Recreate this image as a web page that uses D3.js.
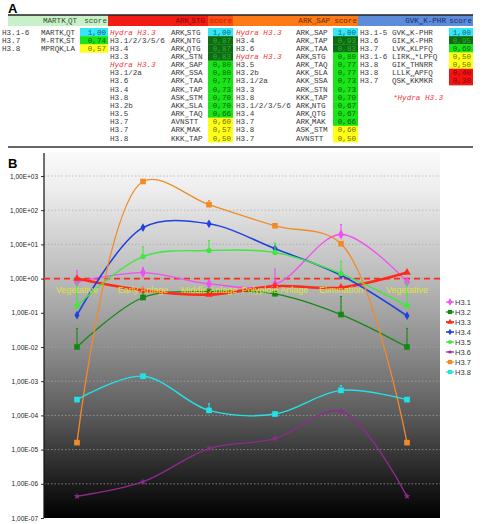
<!DOCTYPE html>
<html>
<head>
<meta charset="utf-8">
<script src="https://cdn.jsdelivr.net/npm/d3@7"></script>
<style>
  body { margin: 0; background: #fff; }
  svg { display: block; }
</style>
</head>
<body>
<script>
// ---- panel A data: one set of arrays per table section ----
// motifs use {n} for the subscript residue number
const headers = ["MARTK{4}QT", "ARK{9}STG", "ARK{27}SAP", "GVK{36}K-PHR"];

const names1 = ["H3.1-6", "H3.7", "H3.8"];
const motifs1 = ["MARTK{4}QT", "M-RTK{4}ST", "MPRQK{4}LA"];
const scores1 = [1.00, 0.74, 0.57];

const names2 = ["*Hydra H3.3", "H3.1/2/3/5/6", "H3.4", "H3.3", "*Hydra H3.3", "H3.1/2a", "H3.6",
  "H3.4", "H3.8", "H3.2b", "H3.5", "H3.7", "H3.7", "H3.8"];
const motifs2 = ["ARK{9}STG", "ARK{9}NTG", "ARK{9}QTG", "ARK{27}STN", "ARK{27}SAP", "ARK{27}SSA", "ARK{27}TAA",
  "ARK{27}TAP", "ASK{26}STM", "AKK{27}SLA", "ARK{27}TAQ", "AVNSTT", "ARK{9}MAK", "KKK{21}TAP"];
const scores2 = [1.00, 0.87, 0.87, 0.83, 0.80, 0.80, 0.77, 0.73, 0.70, 0.70, 0.66, 0.60, 0.57, 0.50];

const names3 = ["*Hydra H3.3", "H3.4", "H3.6", "*Hydra H3.3", "H3.5", "H3.2b", "H3.1/2a", "H3.3",
  "H3.8", "H3.1/2/3/5/6", "H3.4", "H3.7", "H3.8", "H3.7"];
const motifs3 = ["ARK{27}SAP", "ARK{27}TAP", "ARK{27}TAA", "ARK{9}STG", "ARK{27}TAQ", "AKK{27}SLA", "AKK{27}SSA",
  "ARK{27}STN", "KKK{21}TAP", "ARK{9}NTG", "ARK{9}QTG", "ARK{9}MAK", "ASK{26}STM", "AVNSTT"];
const scores3 = [1.00, 0.93, 0.83, 0.80, 0.77, 0.77, 0.73, 0.73, 0.70, 0.67, 0.67, 0.66, 0.60, 0.50];

const names4 = ["H3.1-5", "H3.6", "H3.7", "H3.1-6", "H3.8", "H3.8", "H3.7"];
const motifs4 = ["GVK{36}K-PHR", "GIK{36}K-PHR", "LVK{79}KLPFQ", "LIRK{79}*LPFQ", "GIK{36}THNRR", "LLLK{36}APFQ", "QSK{36}KKMKR"];
const scores4 = [1.00, 0.95, 0.69, 0.50, 0.50, 0.40, 0.38];

// ---- panel B data ----
const stages = ["Vegetative", "Early Anlage", "Middle Anlage", "Polyploid Anlage", "Elimination", "Vegetative"];
const seriesNames = ["H3.1", "H3.2", "H3.3", "H3.4", "H3.5", "H3.6", "H3.7", "H3.8"];
const h31 = [0.8, 1.5, 0.7, 0.68, 19.5, 0.8];
const h32 = [0.01, 0.28, 0.42, 0.36, 0.089, 0.01];
const h33 = [1.0, 0.45, 0.34, 0.6, 0.55, 1.5];
const h34 = [0.085, 31, 40, 7.5, 1.25, 0.082];
const h35 = [0.16, 4.4, 6.6, 5.8, 1.4, 0.16];
const h36 = [4.3e-7, 1.15e-6, 1.07e-5, 2.1e-5, 1.3e-4, 4.3e-7];
const h37 = [1.6e-5, 690, 145, 35, 10.5, 1.6e-5];
const h38 = [2.9e-4, 1.4e-3, 1.4e-4, 1.1e-4, 5.4e-4, 2.9e-4];
// upper ends of error bars (null = none drawn)
const err31 = [1.7, 2.1, null, 1.9, 38, null];
const err32 = [0.035, 0.4, null, null, 0.3, 0.035];
const err35 = [0.8, 8.5, 13, 11, 3.2, 0.8];
const err37 = [null, null, 190, null, null, null];
const err38 = [null, null, 2.2e-4, null, 7.5e-4, null];
const yExponents = [3, 2, 1, 0, -1, -2, -3, -4, -5, -6, -7];

const series = [
  { name: seriesNames[0], values: h31, err: err31, color: "#f050f0", sym: d3.symbolDiamond, size: 30, w: 1.3 },
  { name: seriesNames[1], values: h32, err: err32, color: "#118a11", sym: d3.symbolSquare, size: 32, w: 1.3 },
  { name: seriesNames[2], values: h33, err: null, color: "#ff2a1a", sym: d3.symbolTriangle, size: 26, w: 2.6 },
  { name: seriesNames[3], values: h34, err: null, color: "#2340e0", sym: d3.symbolDiamond, size: 22, w: 1.6 },
  { name: seriesNames[4], values: h35, err: err35, color: "#3ee83e", sym: d3.symbolCircle, size: 22, w: 1.4 },
  { name: seriesNames[5], values: h36, err: null, color: "#902a90", sym: d3.symbolStar, size: 14, w: 1.3 },
  { name: seriesNames[6], values: h37, err: err37, color: "#f28a2a", sym: d3.symbolSquare, size: 32, w: 1.3 },
  { name: seriesNames[7], values: h38, err: err38, color: "#22e2e8", sym: d3.symbolSquare, size: 32, w: 1.4 }
];

const W = 482, H = 524;
const svg = d3.select("body").append("svg").attr("width", W).attr("height", H)
  .style("font-family", "Arial, 'Liberation Sans', sans-serif");

// ================= PANEL A =================
const mono = "'Liberation Mono', 'DejaVu Sans Mono', monospace";
svg.append("text").attr("x", 8).attr("y", 13).attr("font-size", 13).attr("font-weight", "bold").text("A");

const rowY0 = 28, rowH = 8.15, tableTop = 15, headH = 11;

function motifText(sel, str) {
  // split "ARK{27}SAP" into normal + subscript tspans
  const parts = str.split(/(\{[^}]*\})/).filter(p => p.length);
  let lowered = false;
  parts.forEach(p => {
    if (p[0] === "{") {
      sel.append("tspan").attr("font-size", 3.6).attr("dy", 1.4).text(p.slice(1, -1));
      lowered = true;
    } else {
      const t = sel.append("tspan").text(p);
      if (lowered) { t.attr("dy", -1.4); lowered = false; }
    }
  });
}

function cellStyle(v) {
  if (v >= 0.999) return { bg: "#36e6f6", fg: "#12607a" };
  if (v > 0.8) return { bg: "#0c6c12", fg: "#2fae2f" };
  if (v > 0.6) return { bg: "#18e418", fg: "#0b640b" };
  if (v >= 0.5) return { bg: "#ffff1a", fg: "#6e6e00" };
  return { bg: "#f21414", fg: "#8e0000" };
}

const sections = [
  { names: names1, motifs: motifs1, scores: scores1, x0: 8, x1: 108, nameX: 2, motifX: 41, cellX: 80,
    head: "#c9f1c9", headScore: "#c9f1c9", headFg: "#305030", scoreFg: "#305030" },
  { names: names2, motifs: motifs2, scores: scores2, x0: 108, x1: 233, nameX: 110, motifX: 171, cellX: 208,
    head: "#f21c14", headScore: "#ff4c14", headFg: "#8a0a00", scoreFg: "#a83000" },
  { names: names3, motifs: motifs3, scores: scores3, x0: 233, x1: 358, nameX: 236, motifX: 296, cellX: 333,
    head: "#ff7a14", headScore: "#ff7a14", headFg: "#6a3000", scoreFg: "#6a3000" },
  { names: names4, motifs: motifs4, scores: scores4, x0: 358, x1: 473, nameX: 360, motifX: 392, cellX: 449,
    head: "#5c8cda", headScore: "#5c8cda", headFg: "#1c2c66", scoreFg: "#1c2c66" }
];

const tableA = svg.append("g").attr("font-family", mono).attr("font-size", 7.6);

sections.forEach((s, si) => {
  const cellW = s.x1 - s.cellX;
  tableA.append("rect").attr("x", s.x0).attr("y", tableTop).attr("width", s.x1 - s.x0).attr("height", headH).attr("fill", s.head);
  tableA.append("rect").attr("x", s.cellX).attr("y", tableTop).attr("width", cellW).attr("height", headH).attr("fill", s.headScore);
  const ht = tableA.append("text").attr("x", s.cellX - 3).attr("y", tableTop + 8.3).attr("text-anchor", "end").attr("fill", s.headFg);
  motifText(ht, headers[si]);
  tableA.append("text").attr("x", s.x1 - 1).attr("y", tableTop + 8.3).attr("text-anchor", "end")
    .attr("fill", s.scoreFg).text("score");

  const rows = tableA.selectAll(null).data(d3.range(s.names.length)).enter().append("g")
    .attr("transform", i => `translate(0,${rowY0 + i * rowH})`);
  rows.append("rect").attr("x", s.cellX).attr("y", 0).attr("width", cellW).attr("height", rowH + 0.3)
    .attr("fill", i => cellStyle(s.scores[i]).bg);
  rows.append("text").attr("x", s.x1 - 2).attr("y", 6.6).attr("text-anchor", "end")
    .attr("fill", i => cellStyle(s.scores[i]).fg)
    .text(i => d3.format(".2f")(s.scores[i]).replace(".", ","));
  rows.append("text").attr("x", s.nameX).attr("y", 6.6)
    .attr("fill", i => s.names[i].startsWith("*") ? "#f03a3a" : "#3a3a3a")
    .attr("font-style", i => s.names[i].startsWith("*") ? "italic" : "normal")
    .text(i => s.names[i].replace("*", ""));
  rows.each(function(i) {
    const t = d3.select(this).append("text").attr("x", s.motifX).attr("y", 6.6).attr("fill", "#3a3a3a");
    motifText(t, s.motifs[i]);
  });
});

tableA.append("text").attr("x", 393).attr("y", 100).attr("fill", "#f03a3a").attr("font-style", "italic")
  .text("*Hydra H3.3");

svg.append("line").attr("x1", 8).attr("x2", 473).attr("y1", tableTop).attr("y2", tableTop)
  .attr("stroke", "#222").attr("stroke-width", 1.4);
svg.append("line").attr("x1", 8).attr("x2", 473).attr("y1", 147).attr("y2", 147)
  .attr("stroke", "#333").attr("stroke-width", 1.4);

// ================= PANEL B =================
const plotL = 44, plotR = 440, plotT = 152, plotB = 518;
const x = d3.scalePoint().domain(d3.range(stages.length)).range([plotL, plotR]).padding(0.5);
const y = d3.scaleLog().domain([1e-7, 1e3]).range([plotB, 176]);

svg.append("text").attr("x", 8).attr("y", 168).attr("font-size", 13).attr("font-weight", "bold").text("B");

const defs = svg.append("defs");
const grad = defs.append("linearGradient").attr("id", "bg").attr("x1", 0).attr("x2", 0).attr("y1", 0).attr("y2", 1);
[[0, "#fafafa"], [0.1, "#eeeeee"], [0.35, "#b9b9b9"], [0.53, "#8e8e8e"], [0.72, "#5a5a5a"], [0.9, "#1e1e1e"], [1, "#000"]]
  .forEach(s => grad.append("stop").attr("offset", s[0]).attr("stop-color", s[1]));
svg.append("rect").attr("x", plotL).attr("y", plotT).attr("width", plotR - plotL).attr("height", plotB - plotT)
  .attr("fill", "url(#bg)");

const yTicks = yExponents.map(e => Math.pow(10, e));
function fmtE(v) {
  const e = Math.round(Math.log10(v));
  return "1,00E" + (e < 0 ? "-" : "+") + String(Math.abs(e)).padStart(2, "0");
}

// grid
svg.append("g").selectAll("line").data(yTicks.slice(0, -1)).enter().append("line")
  .attr("x1", plotL).attr("x2", plotR).attr("y1", d => y(d)).attr("y2", d => y(d))
  .attr("stroke", "#a8a8a8").attr("stroke-opacity", 0.7).attr("stroke-dasharray", "1.5,2");

// y axis
const yAxis = d3.axisLeft(y).tickValues(yTicks).tickFormat(fmtE).tickSize(3).tickPadding(3);
const ya = svg.append("g").attr("transform", `translate(${plotL},0)`).call(yAxis);
ya.select(".domain").remove();
ya.selectAll("text").attr("font-size", 6.5).attr("fill", "#222").attr("font-family", "Arial, 'Liberation Sans', sans-serif");
ya.selectAll("line").attr("stroke", "#333");
svg.append("line").attr("x1", plotL).attr("x2", plotL).attr("y1", 153).attr("y2", plotB)
  .attr("stroke", "#111").attr("stroke-width", 1.2);

// reference line at 1
svg.append("line").attr("x1", plotL).attr("x2", plotR).attr("y1", y(1)).attr("y2", y(1))
  .attr("stroke", "#ff2a1a").attr("stroke-width", 1.6).attr("stroke-dasharray", "6,4");

const line = d3.line().x((d, i) => x(i)).y(d => y(d)).curve(d3.curveCatmullRom.alpha(0.5));

const gs = svg.append("g").selectAll("g").data(series).enter().append("g");
gs.each(function(s) {
  const g = d3.select(this);
  if (s.err) {
    s.err.forEach((u, i) => {
      if (u == null) return;
      g.append("line").attr("x1", x(i)).attr("x2", x(i)).attr("y1", y(s.values[i])).attr("y2", y(u))
        .attr("stroke", s.color).attr("stroke-width", 1.1);
      g.append("line").attr("x1", x(i) - 1).attr("x2", x(i) + 1).attr("y1", y(u)).attr("y2", y(u))
        .attr("stroke", s.color).attr("stroke-width", 1);
    });
  }
  g.append("path").attr("d", line(s.values)).attr("fill", "none")
    .attr("stroke", s.color).attr("stroke-width", s.w);
  g.selectAll("path.m").data(s.values).enter().append("path").attr("class", "m")
    .attr("transform", (d, i) => `translate(${x(i)},${y(d)})`)
    .attr("d", d3.symbol().type(s.sym).size(s.size)).attr("fill", s.color);
});

// stage labels
svg.append("g").selectAll("text").data(stages).enter().append("text")
  .attr("x", (d, i) => x(i)).attr("y", 293).attr("text-anchor", "middle")
  .attr("font-size", 9).attr("fill", "#dfe23a").text(d => d);

// legend
const lg = svg.append("g").selectAll("g").data(series).enter().append("g")
  .attr("transform", (d, i) => `translate(446,${302 + i * 10})`);
lg.append("line").attr("x1", 0).attr("x2", 8).attr("stroke", d => d.color).attr("stroke-width", d => Math.min(d.w, 1.8));
lg.append("path").attr("transform", "translate(4,0)").attr("d", d => d3.symbol().type(d.sym).size(d.size * 0.55)()).attr("fill", d => d.color);
lg.append("text").attr("x", 9).attr("y", 2.7).attr("font-size", 7.5).attr("fill", "#333").text(d => d.name);
</script>
</body>
</html>
